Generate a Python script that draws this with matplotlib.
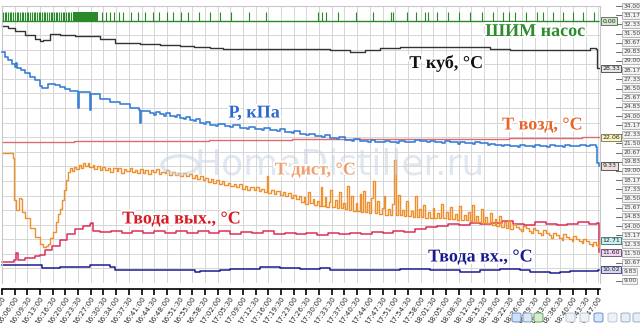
import numpy as np
import pandas as pd
import matplotlib.pyplot as plt
import matplotlib.patheffects as pe
import matplotlib.transforms as mtransforms
from matplotlib.patches import FancyBboxPatch

# time axis labels (every 3.5 min)
tick_labels = ["16:02:30", "16:06:00", "16:09:30", "16:13:00", "16:16:30", "16:20:00", "16:23:30",
               "16:27:00", "16:30:30", "16:34:00", "16:37:30", "16:41:00", "16:44:30", "16:48:00",
               "16:51:30", "16:55:00", "16:58:30", "17:02:00", "17:05:30", "17:09:00", "17:12:30",
               "17:16:00", "17:19:30", "17:23:00", "17:26:30", "17:30:00", "17:33:30", "17:37:00",
               "17:40:30", "17:44:00", "17:47:30", "17:51:00", "17:54:30", "17:58:00", "18:01:30",
               "18:05:00", "18:08:30", "18:12:00", "18:15:30", "18:19:00", "18:22:30", "18:26:00",
               "18:29:30", "18:33:00", "18:36:30", "18:40:00", "18:43:30", "18:47:00"]

# right scale (degC)
scale_labels = [34.00, 33.17, 32.33, 31.50, 30.67, 29.83, 29.00, 28.17, 27.33, 26.50, 25.67,
                24.83, 24.00, 23.17, 22.33, 21.50, 20.67, 19.83, 19.00, 18.17, 17.33, 16.50,
                15.67, 14.83, 14.00, 13.17, 12.33, 11.50, 10.67, 9.83, 9.00]

# series: (minutes since 16:02:30, value)
t_kub = [(0, 32.18), (1.7, 32.0), (3.6, 31.73), (6.4, 31.36), (9.1, 31.0), (10.5, 30.82), (11.3, 30.91),
         (13.2, 31.45), (16.0, 31.36), (20.1, 31.27), (24.3, 31.27), (27.0, 31.0), (31.2, 30.64),
         (34.0, 30.6), (38.1, 30.55), (43.6, 30.45), (49.1, 30.36), (53.0, 30.25), (57.4, 30.18),
         (61.0, 30.12), (65.7, 30.09), (70.0, 30.1), (73.9, 30.09), (78.0, 30.08), (82.2, 30.09),
         (86.0, 30.05), (90.5, 30.0), (96.0, 29.82), (100.2, 30.0), (104.3, 30.18), (109.8, 30.27),
         (114.0, 30.25), (118.1, 30.27), (123.6, 30.27), (129.1, 30.27), (134.6, 30.09), (140.2, 30.0),
         (145.7, 30.0), (151.2, 30.0), (156.7, 30.0), (162.2, 30.18), (163.9, 30.09), (164.3, 28.4),
         (164.8, 28.33)]

p_kpa = [(0, 18.57), (0.8, 18.17), (1.7, 17.92), (2.8, 17.60), (3.6, 17.36), (3.9, 17.68), (4.1, 17.27),
         (5.2, 17.11), (6.4, 16.87), (7.7, 16.54), (9.1, 16.30), (10.5, 15.81), (11.0, 15.65),
         (12.7, 15.98), (14.6, 15.90), (16.0, 15.73), (17.4, 15.57), (18.8, 15.41), (20.7, 15.41),
         (21.0, 14.03), (21.2, 15.33), (22.9, 15.33), (24.2, 15.25), (24.4, 13.87), (24.6, 15.17),
         (27.0, 14.76), (29.8, 14.52), (32.6, 14.35), (35.3, 14.03), (37.8, 13.87), (38.1, 12.81),
         (38.4, 13.79), (40.8, 13.62), (42.0, 13.5), (42.6, 13.7), (43.5, 13.55), (44.7, 13.4),
         (45.3, 13.6), (46.4, 13.38), (47.6, 13.3), (48.2, 13.45), (49.0, 13.25), (50.3, 13.1),
         (50.9, 13.3), (51.9, 13.06), (53.0, 12.95), (53.6, 13.1), (54.5, 12.85), (55.8, 12.75),
         (56.4, 12.9), (57.4, 12.65), (59.0, 12.6), (59.6, 12.75), (61.5, 12.55), (63.0, 12.45),
         (63.7, 12.62), (65.7, 12.41), (67.5, 12.35), (68.2, 12.5), (69.8, 12.35), (71.8, 12.25),
         (72.4, 12.4), (73.9, 12.25), (76.0, 12.15), (76.6, 12.3), (78.0, 12.1), (80.0, 12.0),
         (80.7, 12.15), (82.2, 11.92), (84.0, 11.8), (84.6, 11.95), (86.3, 11.75), (88.3, 11.65),
         (89.0, 11.8), (90.5, 11.60), (92.5, 11.5), (93.1, 11.65), (94.6, 11.45), (96.5, 11.38),
         (97.2, 11.5), (98.8, 11.35), (101.0, 11.28), (101.7, 11.4), (103.0, 11.3), (105.0, 11.25),
         (105.6, 11.38), (107.0, 11.27), (109.0, 11.22), (109.6, 11.35), (111.2, 11.3), (113.3, 11.25),
         (113.9, 11.4), (115.3, 11.35), (117.4, 11.25), (118.0, 11.38), (119.4, 11.3), (121.5, 11.2),
         (122.1, 11.32), (123.6, 11.27), (125.7, 11.15), (126.3, 11.28), (127.8, 11.22), (130.0, 11.12),
         (130.6, 11.25), (131.9, 11.19), (134.0, 11.05), (134.6, 11.15), (136.0, 11.05), (138.0, 10.92),
         (138.6, 11.05), (140.2, 10.95), (142.3, 10.9), (142.9, 11.02), (144.3, 10.97), (146.4, 10.88),
         (147.0, 11.0), (148.4, 10.95), (150.5, 10.88), (151.1, 11.0), (152.6, 10.93), (154.7, 10.9),
         (155.3, 11.02), (156.7, 10.95), (158.2, 10.98), (159.5, 11.05), (161.0, 10.98), (162.2, 11.03),
         (163.9, 10.87), (164.3, 9.6), (164.8, 9.33)]

t_air = [(0, 21.66), (10, 21.68), (20, 21.7), (30, 21.69), (40, 21.72), (57, 21.86), (70, 21.85),
         (80, 21.88), (100, 21.9), (118, 21.91), (130, 21.95), (140, 21.98), (160, 22.05), (164.8, 22.06)]

t_dist = [(0, 20.64), (2.8, 20.64), (3.0, 20.18), (3.3, 16.36), (3.9, 15.45), (4.7, 16.55), (5.2, 16.45),
          (5.5, 15.27), (6.4, 14.73), (7.7, 13.82), (9.1, 13.0), (10.5, 12.36), (11.3, 12.09),
          (12.1, 12.18), (12.7, 12.36), (13.2, 12.91), (14.1, 13.45), (14.9, 14.36), (15.5, 15.09),
          (16.0, 15.55), (16.6, 16.36), (17.1, 17.27), (17.7, 18.18), (18.2, 18.91), (18.8, 19.27),
          (19.3, 19.0), (19.9, 19.35), (20.4, 19.2), (21.2, 19.5), (21.8, 19.25), (22.3, 19.7),
          (23.0, 19.45), (23.6, 19.75), (24.1, 19.4), (25.0, 19.55), (25.4, 19.2), (26.2, 19.45),
          (27.1, 19.05), (27.6, 19.4), (28.4, 19.1), (29.3, 19.3), (29.8, 18.95), (30.6, 19.25),
          (31.7, 19.0), (32.1, 19.3), (32.9, 18.85), (33.8, 19.15), (34.3, 19.0), (35.2, 19.3),
          (35.9, 18.9), (36.8, 19.1), (37.2, 18.8), (38.1, 19.2), (38.9, 18.85), (39.4, 19.05),
          (40.3, 18.75), (41.2, 19.1), (41.6, 18.9), (42.5, 19.15), (43.3, 18.7), (44.0, 18.95),
          (44.9, 18.8), (45.3, 19.05), (46.2, 18.65), (47.0, 18.9), (47.7, 18.6), (48.6, 18.85),
          (49.1, 18.5), (50.0, 18.8), (50.8, 18.55), (51.5, 18.7), (52.3, 18.35), (53.2, 18.6),
          (53.7, 18.3), (54.6, 18.5), (55.4, 18.15), (56.1, 18.4), (56.9, 18.0), (57.6, 18.25),
          (58.3, 17.95), (59.0, 18.15), (59.9, 17.8), (60.7, 18.05), (61.3, 17.75), (62.4, 17.95),
          (63.0, 17.6), (63.9, 17.85), (64.6, 17.55), (65.3, 17.8), (66.2, 17.4), (67.1, 17.65),
          (67.6, 17.3), (68.5, 17.55), (69.4, 17.25), (70.0, 17.5), (70.9, 17.15), (71.6, 17.4),
          (72.4, 17.05), (73.0, 18.5), (73.5, 17.0), (74.3, 17.3), (75.1, 16.9), (75.7, 17.15),
          (76.6, 16.8), (77.4, 17.1), (78.0, 16.7), (78.9, 17.0), (79.7, 16.55), (80.3, 16.85),
          (81.2, 16.45), (81.9, 16.7), (82.6, 16.2), (83.2, 16.6), (83.7, 16.0), (84.5, 17.1),
          (84.9, 16.1), (85.8, 16.45), (86.2, 15.9), (86.9, 16.3), (87.5, 15.85), (87.9, 17.55),
          (88.4, 15.8), (89.0, 16.6), (89.4, 15.75), (90.2, 16.2), (90.6, 17.3), (91.1, 15.7),
          (91.9, 16.35), (92.4, 15.6), (93.1, 17.05), (93.5, 15.65), (94.2, 16.1), (94.7, 15.5),
          (95.2, 17.65), (95.7, 15.45), (96.3, 16.7), (96.8, 15.4), (97.6, 16.05), (98.0, 15.35),
          (98.7, 16.9), (99.1, 15.3), (99.6, 17.2), (100.1, 15.3), (100.7, 16.2), (101.3, 15.2),
          (101.9, 16.5), (102.3, 18.1), (102.8, 15.15), (103.5, 16.3), (104.0, 15.1), (104.8, 15.6),
          (105.3, 16.75), (105.8, 15.0), (106.5, 15.55), (107.0, 15.0), (107.7, 16.0), (108.2, 20.0),
          (108.7, 15.0), (109.3, 16.8), (109.8, 15.0), (110.5, 15.45), (111.0, 14.9), (111.6, 16.3),
          (112.1, 14.9), (112.8, 15.4), (113.3, 14.85), (113.9, 16.7), (114.4, 14.8), (115.1, 15.5),
          (115.6, 14.8), (116.3, 15.9), (116.8, 14.75), (117.5, 15.25), (118.1, 14.7), (118.8, 15.6),
          (119.3, 14.7), (120.0, 15.2), (120.5, 14.75), (121.2, 16.0), (121.7, 14.7), (122.5, 15.3),
          (123.0, 14.65), (123.7, 15.7), (124.2, 14.6), (125.0, 15.1), (125.5, 14.55), (126.1, 15.8),
          (126.6, 14.5), (127.4, 15.0), (127.9, 14.5), (128.6, 15.3), (129.1, 14.45), (129.6, 15.9),
          (130.1, 14.4), (130.9, 14.95), (131.4, 14.35), (132.1, 15.5), (132.6, 14.3), (133.4, 14.8),
          (133.9, 14.25), (134.6, 15.2), (135.1, 14.1), (135.9, 14.6), (136.4, 14.0), (137.2, 14.9),
          (137.7, 13.9), (138.5, 14.4), (139.0, 13.8), (139.7, 14.5), (140.3, 13.7), (141.0, 14.15),
          (141.8, 13.95), (142.6, 13.7), (143.3, 13.55), (143.7, 14.0), (144.5, 13.8), (145.3, 13.55),
          (146.0, 13.35), (146.4, 13.85), (147.2, 13.6), (148.0, 13.35), (148.8, 13.15), (149.2, 13.6),
          (150.0, 13.4), (150.8, 13.15), (151.6, 12.95), (152.0, 13.4), (152.8, 13.2), (153.6, 12.95),
          (154.4, 12.75), (154.8, 13.25), (155.6, 13.0), (156.4, 12.8), (157.2, 12.6), (157.6, 13.05),
          (158.4, 12.85), (159.2, 12.6), (160.0, 12.45), (160.4, 12.85), (161.2, 12.6), (162.0, 12.4),
          (162.8, 12.2), (163.2, 12.55), (163.9, 12.3), (164.4, 12.05), (164.8, 12.71)]

t_water_out = [(0, 10.73), (3.3, 10.91), (3.9, 11.55), (4.1, 11.55), (4.4, 10.91), (6.4, 11.09),
               (9.1, 11.27), (10.5, 11.36), (11.9, 11.82), (13.8, 12.18), (16.0, 12.73), (17.9, 13.27),
               (20.1, 13.73), (22.3, 14.0), (24.3, 14.18), (24.6, 14.27), (25.1, 13.55), (27.0, 13.45),
               (30, 13.5), (33, 13.35), (36, 13.5), (39, 13.4), (42, 13.55), (45, 13.35), (48, 13.5),
               (51, 13.4), (54, 13.55), (57, 13.35), (60, 13.5), (63, 13.3), (66, 13.45), (69, 13.35),
               (72, 13.5), (75, 13.3), (78, 13.4), (81, 13.25), (84, 13.4), (87, 13.2), (90, 13.35),
               (93, 13.25), (96, 13.4), (99, 13.3), (102, 13.45), (105, 13.35), (108, 13.5), (111, 13.45),
               (114, 13.7), (117, 13.9), (120, 14.0), (123, 14.2), (126, 14.1), (129, 14.3), (132, 14.15),
               (135, 14.25), (138, 14.45), (141, 14.2), (144, 14.1), (147, 14.4), (150, 14.2), (153, 14.05),
               (156, 14.15), (159, 14.35), (162, 14.2), (164.3, 14.3), (164.8, 11.60)]

t_water_in = [(0, 10.45), (10.5, 10.45), (11.0, 10.18), (16.0, 10.27), (24.3, 10.45), (29.8, 10.27),
              (31.2, 10.0), (40.8, 10.0), (49.1, 10.0), (53.2, 9.82), (54.6, 9.91), (60.1, 10.0),
              (62.9, 10.12), (71.2, 10.25), (76.7, 10.18), (82.2, 10.12), (87.7, 10.15), (90.5, 10.0),
              (98.8, 10.0), (104.3, 10.0), (109.8, 10.05), (118.1, 10.03), (123.6, 10.0), (126.4, 9.82),
              (131.9, 10.0), (137.4, 10.09), (142.9, 10.0), (145.7, 9.82), (151.2, 9.70), (154.0, 9.85),
              (156.7, 9.91), (162.2, 9.91), (164.4, 10.0), (164.8, 10.02)]

# pump PWM pulses (minutes)
pwm_dense = [0.3, 0.8, 1.2, 1.7, 2.2, 2.6, 3.1, 3.6, 4.1, 4.5, 5.0, 5.5, 5.9, 6.4, 6.9, 7.3, 7.8, 8.3,
             8.7, 9.2, 9.7, 10.1, 10.6, 11.1, 11.5, 12.0, 12.5, 12.9, 13.4, 13.9, 14.3, 14.8, 15.3,
             15.7, 16.2, 16.7, 17.1, 17.6, 18.1, 18.5, 19.0]
pwm_block = [19.6, 26.5]
pwm_sparse = [27.5, 28.7, 29.8, 31.0, 32.2, 33.5, 35.6, 37.6, 39.5, 41.6, 43.4, 45.4, 47.3, 49.4,
              51.2, 54.4, 57.4, 60.1, 63.2, 68.1, 72.8, 87.2, 88.3, 89.4, 92.7, 97.7, 102.4, 107.3,
              107.9, 111.7, 114.2, 116.7, 117.5, 120.0, 123.1, 126.1, 129.1, 132.4, 135.5, 138.2,
              139.9, 141.5, 144.6, 147.6, 149.3, 152.0, 154.8, 157.5, 160.3, 163.3]
pwm_last = 0.00

W, H = 640, 323
fig = plt.figure(figsize=(W / 100, H / 100), dpi=100)
ax = fig.add_axes([2 / W, 1 - 283 / H, 598 / W, 277 / H])
ax.set_xlim(0, 165)
ax.set_ylim(34 - 277 / 11, 34)

ax_p = ax.twinx()
ax_p.set_ylim(-0.16, 22.30)
ax_p.axis("off")
ax_w = ax.twinx()
ax_w.set_ylim(-(283 - 21) / 9, (21 - 6) / 9)
ax_w.axis("off")

t0 = pd.to_datetime(tick_labels[0], format="%H:%M:%S")
tick_pos = (pd.to_datetime(tick_labels, format="%H:%M:%S") - t0).total_seconds() / 60
ax.set_xticks(list(tick_pos), labels=tick_labels)
ax.set_yticks(np.linspace(34 - 277 / 11, 34, 20))
ax.tick_params(axis="y", left=False, labelleft=False)
ax.tick_params(axis="x", direction="out", length=4, width=1.2, color="black", pad=1,
               labelsize=5.2, labelcolor="#2a2a2a", labelrotation=55)
ax.grid(True, color="#d6d6d6", lw=0.7)
ax.set_axisbelow(True)
for s in ["top", "left", "right"]:
    ax.spines[s].set_color("#c8c8c8")
    ax.spines[s].set_linewidth(0.8)
ax.spines["bottom"].set_position(("outward", 4))
ax.spines["bottom"].set_linewidth(1.2)


def xy(pts):
    arr = np.array(pts, dtype=float)
    return arr[:, 0], arr[:, 1]


series = [
    (ax, t_air, "#e06a72", 1.0),
    (ax, t_water_in, "#1c1c90", 1.1),
    (ax, t_water_out, "#dc2f5a", 1.1),
    (ax, t_dist, "#f0902c", 1.0),
    (ax, t_kub, "#333333", 1.0),
    (ax_p, p_kpa, "#3a80d8", 1.2),
]
for a, pts, c, lw in series:
    x, y = xy(pts)
    a.plot(x, y, color=c, lw=lw, drawstyle="steps-post", clip_on=False)

green = "#2a8a2a"
ax_w.hlines(0, 0, 164.8, color=green, lw=1.0)
ax_w.vlines(pwm_dense + pwm_sparse, 0, 1, color=green, lw=0.8)
ax_w.fill_between(pwm_block, 0, 1, color=green, lw=0)

# right scale with boxed labels
tr = mtransforms.blended_transform_factory(ax.transAxes, ax.transData)
for v in scale_labels:
    ax.plot([1.027, 1.037], [v, v], transform=tr, color="#555555", lw=0.6, clip_on=False)
    ax.text(1.039, v, f"{v:.2f}", transform=tr, fontsize=4.3, color="#444444", ha="left", va="center",
            bbox=dict(boxstyle="square,pad=0.15", fc="#f2f2f2", ec="#9a9a9a", lw=0.5))

# current value boxes
boxes = [
    (ax_w, pwm_last, "#d6e6cf", "#4a6a4a"),
    (ax, t_kub[-1][1], "#e8e8e8", "#404040"),
    (ax, t_air[-1][1], "#fff6c0", "#707050"),
    (ax_p, p_kpa[-1][1], "#efe0e0", "#404040"),
    (ax, t_dist[-1][1], "#cff0f0", "#307070"),
    (ax, t_water_out[-1][1], "#f0d6f0", "#604060"),
    (ax, t_water_in[-1][1], "#d6d8f2", "#303070"),
]
for a, v, fc, ec in boxes:
    trb = mtransforms.blended_transform_factory(a.transAxes, a.transData)
    a.text(1.004, v, f"{v:.2f}", transform=trb, fontsize=4.5, color="#222222", ha="left", va="center",
           bbox=dict(boxstyle="square,pad=0.18", fc=fc, ec=ec, lw=0.6), clip_on=False)

# watermark
fig.text(0.53, 0.49, "HomeDistiller.ru", fontsize=26, color="#c9d5e2", alpha=0.55,
         ha="center", va="center")
fig.patches.append(plt.Circle((180 / W, 1 - 165 / H), 0.028, transform=fig.transFigure,
                              fill=False, ec="#c9d5e2", lw=2.5, alpha=0.55))

# series names
glow = [pe.withStroke(linewidth=3, foreground="white")]
names = [
    ("ШИМ насос", 535, 31.5, "#2e8b2e"),
    ("Т куб, °С", 446, 63, "#111111"),
    ("Р, кПа", 254, 113, "#2a6ad0"),
    ("Т возд, °С", 542, 125, "#e8642c"),
    ("Т дист, °С", 315, 170, "#eea070"),
    ("Твода вых., °С", 181, 219, "#d81c24"),
    ("Твода вх., °С", 480, 257, "#1a1a8c"),
]
for txt, px, py, c in names:
    fig.text(px / W, 1 - py / H, txt, fontsize=13, fontweight="bold", family="Liberation Serif",
             color=c, ha="center", va="center", path_effects=glow)

# small toolbar in the bottom-right corner
icons = [(512, "#cfe0f6", "#5b84c4"), (523, "#dde6f2", "#6f8fbf"), (534, "#d9ecd2", "#4c9a4c"),
         (566, "#eef1f6", "#b8c2d2"), (580, "#eef1f6", "#b8c2d2"), (594, "#d8e6f8", "#4f7fc9"),
         (608, "#eef1f6", "#b8c2d2"), (621, "#e8eef6", "#8ea2c0"), (633, "#e8eef6", "#8ea2c0")]
for px, fc, ec in icons:
    fig.patches.append(FancyBboxPatch((px / W, 1 - 322 / H), 9 / W, 9 / H,
                                      boxstyle="round,pad=0,rounding_size=0.004",
                                      transform=fig.transFigure, fc=fc, ec=ec, lw=0.6))

for lab in ax.get_xticklabels():
    lab.set_ha("right")
    lab.set_va("top")
    lab.set_rotation_mode("anchor")

fig.savefig("out.png", dpi=100)
